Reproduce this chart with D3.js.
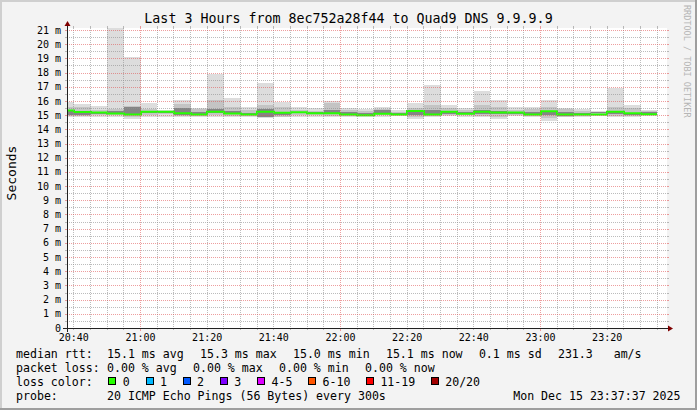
<!DOCTYPE html>
<html><head><meta charset="utf-8">
<script src="https://cdn.jsdelivr.net/npm/d3@7"></script>
<style>
html,body{margin:0;padding:0;background:#f3f3f3;}
svg{display:block;}
text{font-family:"DejaVu Sans Mono",monospace;fill:#000;}
</style></head><body>
<svg id="c" width="697" height="410"></svg>
<script>
// ---- data (ms) : one entry per 5-minute probe round ----
const intervalStarts = ["20:35","20:40","20:45","20:50","20:55","21:00","21:05","21:10","21:15","21:20","21:25","21:30",
  "21:35","21:40","21:45","21:50","21:55","22:00","22:05","22:10","22:15","22:20","22:25","22:30",
  "22:35","22:40","22:45","22:50","22:55","23:00","23:05","23:10","23:15","23:20","23:25","23:30"];
const smokeMax = [15.94,15.78,15.64,21.6,19.10,15.85,15.38,16.10,15.52,17.87,16.20,15.54,
  17.28,15.90,15.54,15.47,15.99,15.47,15.40,15.54,15.35,15.85,17.11,15.70,
  15.47,16.69,16.06,15.54,15.54,16.06,15.52,15.45,15.31,16.92,15.70,15.35];
const bandHi = [15.55,15.58,15.35,15.45,15.62,15.45,15.30,15.77,15.40,16.06,15.55,15.35,
  15.70,15.54,15.35,15.30,15.82,15.35,15.30,15.45,15.25,15.50,15.70,15.50,
  15.38,15.70,15.58,15.35,15.40,15.54,15.45,15.30,15.25,15.54,15.50,15.30];
const coreHi = [15.30,15.20,15.20,15.30,15.55,15.25,15.25,15.50,15.25,15.40,15.30,15.15,
  15.40,15.25,15.25,15.20,15.35,15.20,15.15,15.35,15.15,15.30,15.35,15.25,
  15.20,15.35,15.30,15.22,15.20,15.30,15.20,15.15,15.20,15.30,15.10,15.20];
const median = [15.32,15.22,15.19,15.12,15.05,15.23,15.23,15.14,15.05,15.23,15.12,15.05,
  15.23,15.17,15.20,15.13,15.14,15.05,15.00,15.09,15.05,15.30,15.05,15.23,
  15.10,15.23,15.19,15.19,15.05,15.28,15.05,15.05,15.05,15.23,15.14,15.07];
const coreLo = [14.98,14.99,15.10,15.10,15.08,15.15,15.15,15.00,15.05,15.15,15.05,15.05,
  14.90,15.02,15.15,15.08,15.10,15.05,15.00,15.10,15.05,15.02,15.10,15.10,
  15.05,15.10,15.05,15.10,15.05,14.98,14.95,15.05,15.15,15.10,15.00,15.10];
const bandLo = [14.92,14.95,15.00,15.00,14.85,15.00,15.05,14.95,14.95,15.00,14.95,14.95,
  14.85,14.90,15.00,15.00,14.95,14.95,14.95,14.98,15.00,14.85,14.95,14.98,
  15.00,14.95,14.85,15.00,14.95,14.80,14.90,14.95,15.00,14.95,14.95,15.00];
const smokeMin = [14.88,14.88,14.88,14.90,14.72,14.88,14.90,14.88,14.84,14.88,14.88,14.88,
  14.77,14.84,14.90,14.90,14.88,14.84,14.84,14.88,14.93,14.72,14.88,14.93,
  14.90,14.88,14.72,14.93,14.88,14.60,14.84,14.88,14.93,14.88,14.88,14.93];

const yTickValues = [0,1,2,3,4,5,6,7,8,9,10,11,12,13,14,15,16,17,18,19,20,21];
const xTickLabels = ["20:40","21:00","21:20","21:40","22:00","22:20","22:40","23:00","23:20"];

const titleText = "Last 3 Hours from 8ec752a28f44 to Quad9 DNS 9.9.9.9";
const rttLegend = ["median rtt:", "15.1 ms avg", "15.3 ms max", "15.0 ms min", "15.1 ms now", "0.1 ms sd", "231.3   am/s"];
const lossLegend = ["packet loss:", "0.00 % avg", "0.00 % max", "0.00 % min", "0.00 % now"];
const lossLabels = ["0","1","2","3","4-5","6-10","11-19","20/20"];
const lossColors = ["#26ff00","#00b8ff","#0059ff","#7e00ff","#dd00ff","#ff5500","#ff0000","#a10000"];
const probeText = "20 ICMP Echo Pings (56 Bytes) every 300s";
const stampText = "Mon Dec 15 23:37:37 2025";

// ---- layout ----
const X0 = 67, Y0 = 328, W = 600, H = 300;
const parse = d3.utcParse("%Y-%m-%d %H:%M:%S");
const tStart = parse("2025-12-15 20:37:57"), tEnd = parse("2025-12-15 23:37:57");
const x = d3.scaleUtc().domain([tStart, tEnd]).range([X0, X0 + W]);
const y = d3.scaleLinear().domain([0, 21.14]).range([Y0, Y0 - H]);
const fmt = d3.utcFormat("%H:%M");

const svg = d3.select("#c");
svg.append("rect").attr("width",697).attr("height",410).attr("fill","#f3f3f3");
svg.append("rect").attr("x",0).attr("y",0).attr("width",697).attr("height",2).attr("fill","#cfcfcf");
svg.append("rect").attr("x",0).attr("y",0).attr("width",2).attr("height",410).attr("fill","#cfcfcf");
svg.append("rect").attr("x",0).attr("y",408).attr("width",697).attr("height",2).attr("fill","#9e9e9e");
svg.append("rect").attr("x",695).attr("y",0).attr("width",2).attr("height",410).attr("fill","#9e9e9e");

svg.append("rect").attr("x",X0).attr("y",Y0-H).attr("width",W).attr("height",H).attr("fill","#fff");
svg.append("clipPath").attr("id","cv").append("rect").attr("x",X0).attr("y",Y0-H).attr("width",W).attr("height",H);

const rows = intervalStarts.map((s,i)=>{
  const t0 = parse("2025-12-15 " + s + ":00");
  return {t0, t1: d3.utcMinute.offset(t0,5), max: smokeMax[i], bh: bandHi[i], ch: coreHi[i],
          med: median[i], cl: coreLo[i], bl: bandLo[i], min: smokeMin[i]};
});

const g = svg.append("g").attr("clip-path","url(#cv)");
function band(hiKey, loKey, color){
  g.append("g").selectAll("rect").data(rows).join("rect")
    .attr("x", d=>Math.round(x(d.t0)))
    .attr("width", d=>Math.round(x(d.t1)) - Math.round(x(d.t0)))
    .attr("y", d=>y(d[hiKey]))
    .attr("height", d=>y(d[loKey]) - y(d[hiKey]))
    .attr("fill", color).attr("shape-rendering","crispEdges");
}
band("max","min","#dddddd");
band("bh","bl","#c4c4c4");
band("ch","cl","#858585");

const linePts = rows.map(d=>({t:d.t0, v:d.med}));
linePts.push({t: rows[rows.length-1].t1, v: rows[rows.length-1].med});
g.append("path").datum(linePts)
  .attr("d", d3.line().x(d=>Math.round(x(d.t))).y(d=>y(d.v)).curve(d3.curveStepAfter))
  .attr("fill","none").attr("stroke", lossColors[0]).attr("stroke-width",2);

// ---- grid ----
const GRID = "rgba(143,143,143,0.6)", MGRID = "rgba(222,79,79,0.55)";
const gg = svg.append("g");
const minorT = d3.utcMinute.every(5).range(tStart, tEnd);
minorT.forEach(t=>{
  const major = t.getUTCMinutes() === 0;
  const px = Math.floor(x(t)) + 0.5;
  const col = major ? MGRID : GRID;
  gg.append("line").attr("x1",px).attr("x2",px).attr("y1",Y0-H).attr("y2",Y0)
    .attr("stroke",col).attr("stroke-dasharray","1,1");
  gg.append("line").attr("x1",px).attr("x2",px).attr("y1",Y0-H-2).attr("y2",Y0-H).attr("stroke",col);
  gg.append("line").attr("x1",px).attr("x2",px).attr("y1",Y0).attr("y2",Y0+(major?3:2)).attr("stroke",col);
});
d3.range(0, 21.01, 0.5).forEach(v=>{
  const major = Math.abs(v - Math.round(v)) < 1e-6;
  const py = Math.round(y(v)) + 0.5;
  const col = major ? MGRID : GRID;
  if (v > 0) gg.append("line").attr("x1",X0).attr("x2",X0+W).attr("y1",py).attr("y2",py)
    .attr("stroke",col).attr("stroke-dasharray","1,1");
  gg.append("line").attr("x1",X0-2).attr("x2",X0).attr("y1",py).attr("y2",py).attr("stroke",col);
  gg.append("line").attr("x1",X0+W).attr("x2",X0+W+2).attr("y1",py).attr("y2",py).attr("stroke",col);
});

// ---- axes ----
svg.append("line").attr("x1",X0-4).attr("x2",X0+W+2).attr("y1",Y0+0.5).attr("y2",Y0+0.5).attr("stroke","#212121");
svg.append("line").attr("x1",X0+0.5).attr("x2",X0+0.5).attr("y1",Y0+4).attr("y2",Y0-H-2).attr("stroke","#212121");
svg.append("polygon").attr("points",`${X0+W+1},${Y0-2.5} ${X0+W+1},${Y0+3.5} ${X0+W+6},${Y0+0.5}`).attr("fill","#7f0000");
svg.append("polygon").attr("points",`${X0-2.5},${Y0-H-2} ${X0+3.5},${Y0-H-2} ${X0+0.5},${Y0-H-7}`).attr("fill","#7f0000");

svg.append("g").selectAll("text").data(yTickValues).join("text")
  .attr("x", 61).attr("y", d=>y(d)+3.6).attr("text-anchor","end")
  .style("font-size","10px").text(d=> d===0 ? "0" : d + " m");

const xTicks = xTickLabels.map(s=>parse("2025-12-15 " + s + ":00"));
svg.append("g").selectAll("text").data(xTicks).join("text")
  .attr("x", d=>x(d)).attr("y", 341.2).attr("text-anchor","middle")
  .style("font-size","10px").text(d=>fmt(d));

svg.append("text").attr("transform","translate(15.5,173) rotate(-90)").attr("text-anchor","middle")
  .style("font-size","13px").text("Seconds");

svg.append("text").attr("x",348.5).attr("y",22.8).attr("text-anchor","middle")
  .style("font-size","13.3px").text(titleText);

svg.append("text").attr("transform","translate(684,5) rotate(90)")
  .style("font-size","8.5px").style("fill","#b5b5b5").text("RRDTOOL / TOBI OETIKER");

// ---- legend ----
const CW = 6.97, GAP = 16.3, LFS = "11.58px";
function legendRow(items, yb){
  let px = 16;
  items.forEach((s,i)=>{
    svg.append("text").attr("x",px).attr("y",yb).attr("xml:space","preserve").style("font-size",LFS)
      .style("white-space","pre").text(s);
    px = (i===0) ? 107 : px + s.length*CW + GAP;
  });
}
legendRow(rttLegend, 357.7);
legendRow(lossLegend, 372);
svg.append("text").attr("x",16).attr("y",386.2).style("font-size",LFS).text("loss color:");
let bx = 108.3;
lossLabels.forEach((s,i)=>{
  svg.append("rect").attr("x",Math.round(bx)+0.5).attr("y",377.5).attr("width",7).attr("height",7)
    .attr("fill",lossColors[i]).attr("stroke","#000").attr("stroke-width",1);
  svg.append("text").attr("x",bx+14.4).attr("y",386.2).style("font-size",LFS).text(s);
  bx += 30.3 + s.length*6.9;
});
svg.append("text").attr("x",16).attr("y",400.4).style("font-size",LFS).text("probe:");
svg.append("text").attr("x",107).attr("y",400.4).style("font-size",LFS).text(probeText);
svg.append("text").attr("x",680.5).attr("y",400.4).attr("text-anchor","end").style("font-size",LFS).text(stampText);
</script>
</body></html>
